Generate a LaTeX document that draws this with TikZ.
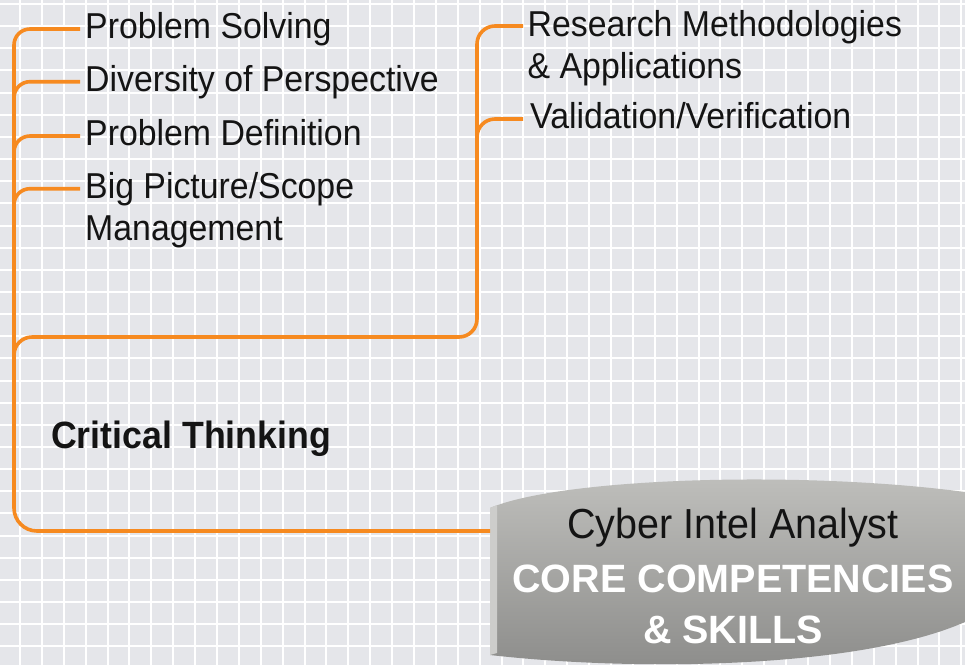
\documentclass[tikz,border=0pt]{standalone}
\usepackage{fontspec}
\setmainfont{Liberation Sans}[FakeStretch=0.94]
\newfontfamily\corefont{Liberation Sans}
\definecolor{bgcol}{RGB}{229,230,234}
\definecolor{orangeline}{RGB}{246,138,32}
\definecolor{textblack}{RGB}{20,20,20}
\definecolor{shapetop}{RGB}{192,192,189}
\definecolor{shapebot}{RGB}{140,140,138}
\definecolor{bevel}{RGB}{205,205,203}
\begin{document}
\begin{tikzpicture}[x=1pt,y=-1pt,
  conn/.style={draw=orangeline, line width=3.6pt, rounded corners=16pt},
  item/.style={anchor=base west, inner sep=0pt, text=textblack, font=\fontsize{36}{42}\selectfont, align=left},
  gridline/.style={white, line width=2pt}]
\useasboundingbox (0,0) rectangle (965,665);
\clip (0,0) rectangle (965,665);
\fill[bgcol] (0,0) rectangle (965,665);
\foreach \k in {-1,...,43} \draw[gridline] ({20+\k*21.89},0) -- ({20+\k*21.89},665);
\foreach \k in {0,...,29} \draw[gridline] (0,{4+\k*22.15}) -- (965,{4+\k*22.15});

% text nodes (multi-line nodes are placed by the baseline of their last line)
\node[item] (ps) at (85,38.5) {Problem Solving};
\node[item] (dp) at (85,91) {Diversity of Perspective};
\node[item] (pd) at (85,145.5) {Problem Definition};
\node[item] (bp) at (85,240) {Big Picture/Scope\\Management};
\node[item] (rm) at (527.5,78.7) {Research Methodologies\\\& Applications};
\node[item] (vv) at (530,128.3) {Validation/Verification};
\node[item, font=\bfseries\fontsize{38}{42}\selectfont] (ct) at (51,448) {Critical Thinking};

% central shape
\shade[top color=shapetop, bottom color=shapebot]
  (490,508) .. controls (560,478) and (800,470) .. (965,492) -- (975,492) -- (975,622) -- (965,622)
  .. controls (860,668) and (640,672) .. (490,655) -- cycle;
\fill[bevel] (490,508) -- (497,505) -- (497,653) -- (490,655) -- cycle;
\coordinate (box) at (490,531);
\node[align=center, anchor=base, inner sep=0pt, text=textblack, font=\fontsize{42}{51}\selectfont] (core) at (733,643)
  {Cyber Intel Analyst\\[3pt]{\corefont\bfseries\fontsize{39.5}{51}\selectfont\color{white}CORE COMPETENCIES}\\{\corefont\bfseries\fontsize{39.5}{51}\selectfont\color{white}\& SKILLS}};

% connector end points
\coordinate (eps) at (80,29);
\coordinate (edp) at (80,81.7);
\coordinate (epd) at (80,136);
\coordinate (ebp) at (80,188.7);
\coordinate (erm) at (523,26);
\coordinate (evv) at (523,119);

% connectors
\draw[conn] (eps) -- (14,29) -- (14,300);
\draw[conn, rounded corners=23pt] (14,290) -- (14,531) -- (box);
\draw[conn] (14,120) -- (14,81.7) -- (edp);
\draw[conn] (14,175) -- (14,136) -- (epd);
\draw[conn] (14,228) -- (14,188.7) -- (ebp);
\draw[conn, rounded corners=18pt] (14,380) -- (14,337) -- (477,337) -- (477,26) -- (erm);
\draw[conn, rounded corners=18pt] (477,160) -- (477,119) -- (evv);
\end{tikzpicture}
\end{document}
